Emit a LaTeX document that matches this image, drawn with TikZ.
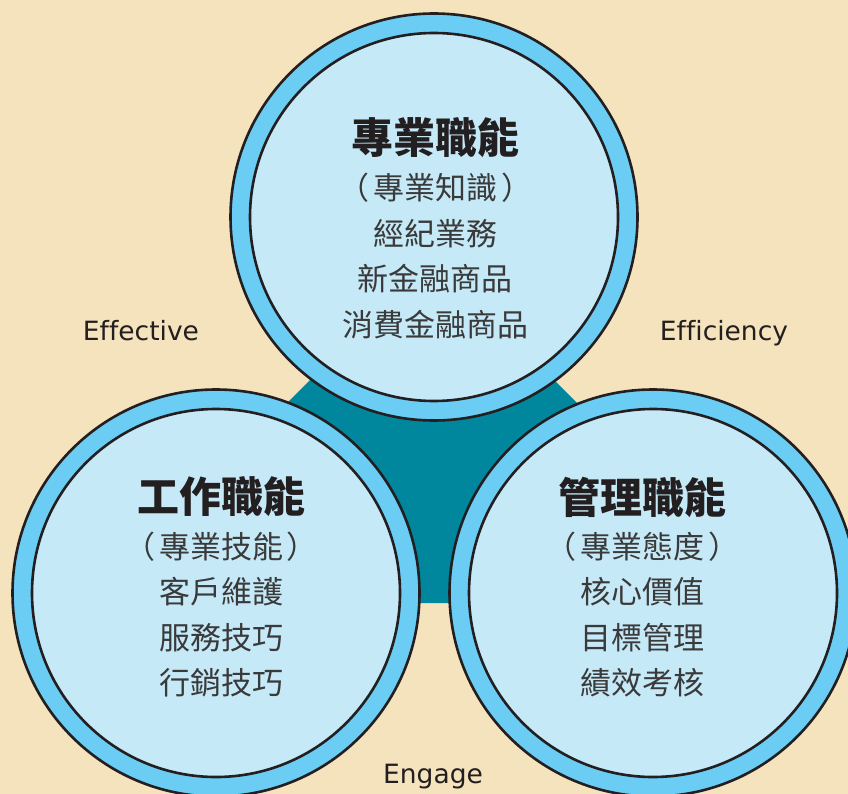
\documentclass[tikz,border=0pt]{standalone}
\usepackage{fontspec}
\setmainfont{DejaVu Sans}[Ligatures=CommonOff]
\newfontfamily\cjk{Noto Sans CJK TC}
\usetikzlibrary{positioning}

\definecolor{paper}{HTML}{F5E3BE}
\definecolor{ringblue}{HTML}{6CCDF4}
\definecolor{coreblue}{HTML}{C6E9F8}
\definecolor{deepteal}{HTML}{00879E}
\definecolor{ink}{HTML}{231F20}
\definecolor{softink}{HTML}{3A3A3A}

\newcommand{\paren}[1]{（\hspace{4pt}#1\hspace{4pt}）}

\begin{document}
\begin{tikzpicture}[x=1pt, y=-1pt,
  ring/.style={circle, draw=ink, fill=ringblue, line width=2.6pt, minimum size=407pt, inner sep=0pt},
  core/.style={circle, draw=ink, fill=coreblue, line width=2.6pt, minimum size=368pt, inner sep=0pt},
  heading/.style={font=\cjk\bfseries\fontsize{42}{42}\selectfont, text=ink, inner sep=0pt},
  items/.style={font=\cjk\fontsize{31}{45.5}\selectfont, text=softink, align=center, inner sep=0pt},
  tag/.style={font=\fontsize{26.5}{26.5}\selectfont, text=ink, inner sep=0pt, anchor=base}
]

% Background
\fill[paper] (0,0) rectangle (848,794);
\useasboundingbox (0,0) rectangle (848,794);

% Core behind the circles
\fill[deepteal] (432,258) -- (87,603) -- (777,603) -- cycle;

% Circles
\node[ring] (topring) at (434,217) {};
\node[core] (top) at (434,217) {};
\node[ring] (leftring) at (216,593) {};
\node[core] (left) at (216,593) {};
\node[ring] (rightring) at (653,593) {};
\node[core] (right) at (653,593) {};

% Texts
\node[heading] (topname) at (435,138) {專業職能};
\node[items] (topitems) at (435,256) {\paren{專業知識}\\經紀業務\\新金融商品\\消費金融商品};
\node[heading] (leftname) at (221,497) {工作職能};
\node[items] (leftitems) at (221,614.5) {\paren{專業技能}\\客戶維護\\服務技巧\\行銷技巧};
\node[heading] (rightname) at (642,497) {管理職能};
\node[items] (rightitems) at (642,614.5) {\paren{專業態度}\\核心價值\\目標管理\\績效考核};

% Labels
\node[tag] (effective) at (141,340) {Effective};
\node[tag] (efficiency) at (724,340) {Efficiency};
\node[tag] (engage) at (433,783) {Engage};
\end{tikzpicture}
\end{document}
